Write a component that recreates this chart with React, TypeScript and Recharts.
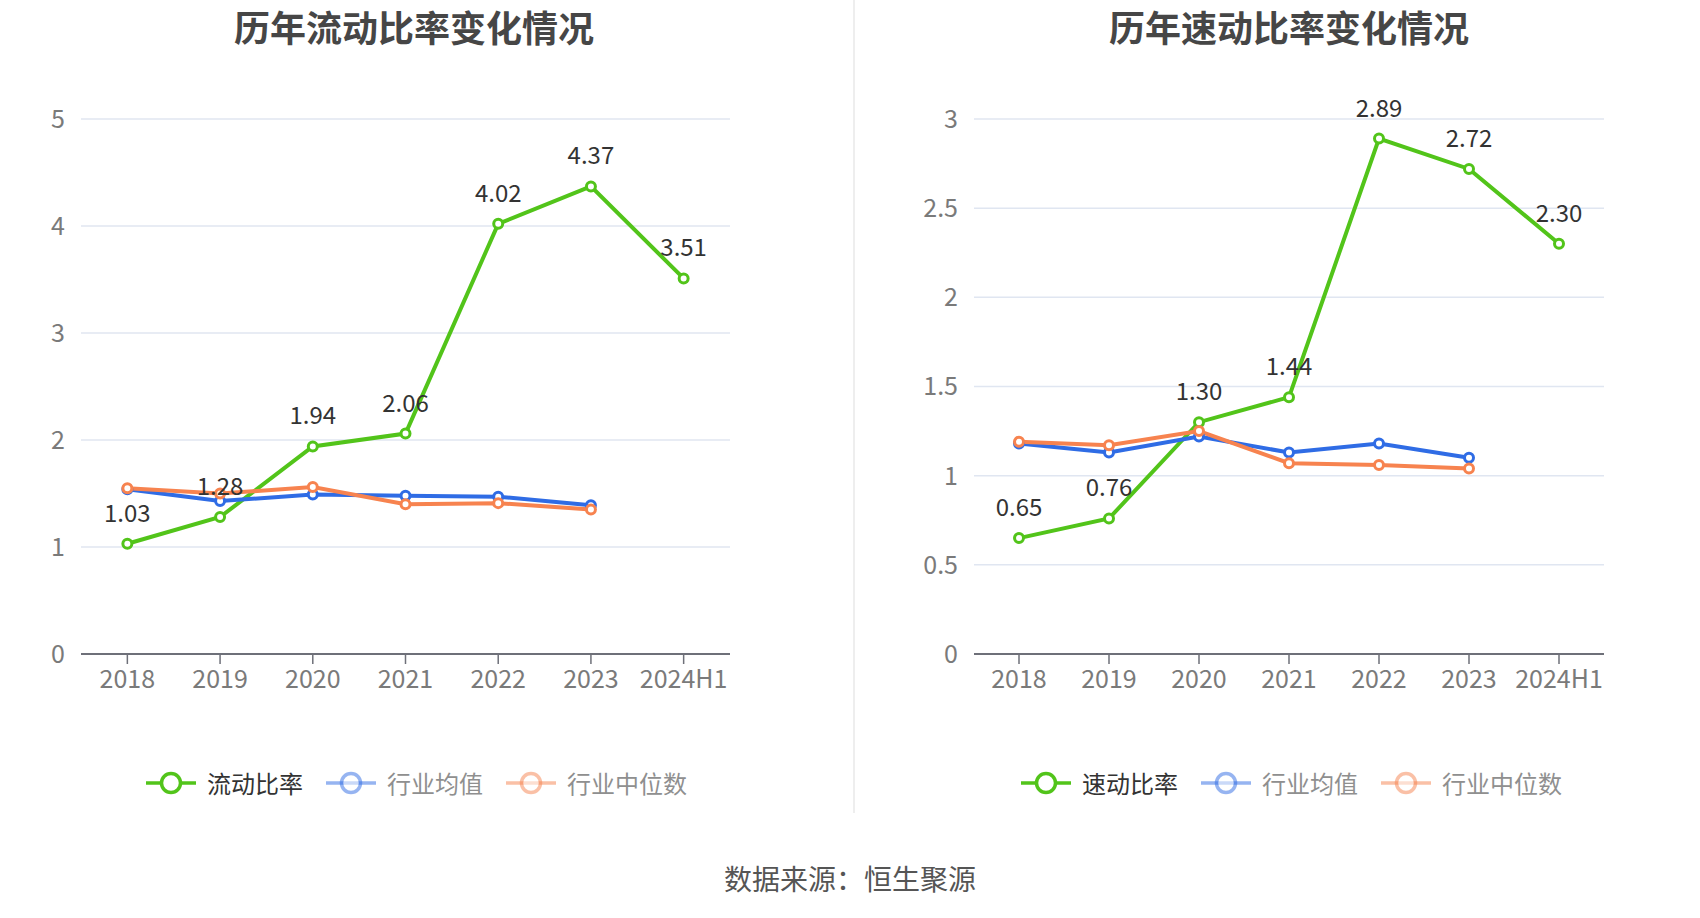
import React from 'react';
import { LineChart, Line, XAxis, YAxis, CartesianGrid, LabelList } from 'recharts';

const categories = ['2018', '2019', '2020', '2021', '2022', '2023', '2024H1'];

const currentRatio = [1.03, 1.28, 1.94, 2.06, 4.02, 4.37, 3.51];
const currentIndustryMean = [1.54, 1.43, 1.49, 1.48, 1.47, 1.39, null];
const currentIndustryMedian = [1.55, 1.5, 1.56, 1.4, 1.41, 1.35, null];

const quickRatio = [0.65, 0.76, 1.3, 1.44, 2.89, 2.72, 2.3];
const quickIndustryMean = [1.18, 1.13, 1.22, 1.13, 1.18, 1.1, null];
const quickIndustryMedian = [1.19, 1.17, 1.25, 1.07, 1.06, 1.04, null];

const leftTicks = [0, 1, 2, 3, 4, 5];
const rightTicks = [0, 0.5, 1, 1.5, 2, 2.5, 3];

const leftTitle = '历年流动比率变化情况';
const rightTitle = '历年速动比率变化情况';
const leftNames = ['流动比率', '行业均值', '行业中位数'];
const rightNames = ['速动比率', '行业均值', '行业中位数'];
const sourceText = '数据来源：恒生聚源';

const GREEN = '#52c41a';
const BLUE = '#2f6ce5';
const ORANGE = '#f7834f';
const FONT = '"Noto Sans CJK SC", "Noto Sans", sans-serif';

const buildRows = (main: number[], mean: (number | null)[], median: (number | null)[]) =>
  categories.map((c, i) => ({ name: c, main: main[i], mean: mean[i], median: median[i] }));

const leftRows = buildRows(currentRatio, currentIndustryMean, currentIndustryMedian);
const rightRows = buildRows(quickRatio, quickIndustryMean, quickIndustryMedian);

const renderLabel = (props: any) => {
  const { x, y, value } = props;
  if (value == null) return null;
  return (
    <text x={x} y={y - 22} textAnchor="middle" fontSize={24} fill="#333" fontFamily={FONT}>
      {Number(value).toFixed(2)}
    </text>
  );
};

type PanelProps = {
  rows: any[];
  ticks: number[];
  max: number;
  width: number;
  yWidth: number;
  rightMargin: number;
};

const Panel = ({ rows, ticks, max, width, yWidth, rightMargin }: PanelProps) => {
  const lineW = 4;
  const dot = (c: string) => ({ r: 4.5, strokeWidth: 3, fill: '#fff', stroke: c });
  return (
    <LineChart
      width={width}
      height={800}
      data={rows}
      margin={{ top: 119, right: rightMargin, bottom: 106, left: 0 }}
    >
      <CartesianGrid vertical={false} stroke="#E0E6F1" strokeWidth={1.5} />
      <XAxis
        dataKey="name"
        scale="band"
        height={40}
        axisLine={{ stroke: '#6E7079', strokeWidth: 2 }}
        tickLine={{ stroke: '#6E7079', strokeWidth: 1.5 }}
        tickSize={10}
        tickMargin={6}
        interval={0}
        tick={{ fill: '#7a7a7a', fontSize: 25, fontFamily: FONT }}
      />
      <YAxis
        width={yWidth}
        domain={[0, max]}
        ticks={ticks}
        interval={0}
        axisLine={false}
        tickLine={false}
        tickMargin={10}
        tick={{ fill: '#7a7a7a', fontSize: 25, fontFamily: FONT }}
        tickFormatter={(v: number) => String(v)}
      />
      <Line
        dataKey="main"
        stroke={GREEN}
        strokeWidth={lineW}
        dot={dot(GREEN)}
        activeDot={false}
        isAnimationActive={false}
      />
      <Line
        dataKey="mean"
        stroke={BLUE}
        strokeWidth={lineW}
        dot={dot(BLUE)}
        activeDot={false}
        isAnimationActive={false}
      />
      <Line
        dataKey="median"
        stroke={ORANGE}
        strokeWidth={lineW}
        dot={dot(ORANGE)}
        activeDot={false}
        isAnimationActive={false}
      />
      <Line
        dataKey="main"
        stroke="none"
        dot={false}
        activeDot={false}
        legendType="none"
        isAnimationActive={false}
      >
        <LabelList dataKey="main" content={renderLabel} />
      </Line>
    </LineChart>
  );
};

const LegendIcon = ({ color, faded }: { color: string; faded: boolean }) => {
  const op = faded ? 0.5 : 1;
  return (
    <svg width={50} height={26} style={{ display: 'block' }}>
      <line x1={0} y1={13} x2={50} y2={13} stroke={color} strokeWidth={3.5} opacity={op} />
      <circle cx={25} cy={13} r={9.5} fill="#fff" stroke={color} strokeWidth={3.5} opacity={op} />
    </svg>
  );
};

const LegendRow = ({ names, left }: { names: string[]; left: number }) => {
  const colors = [GREEN, BLUE, ORANGE];
  return (
    <div
      style={{
        position: 'absolute',
        left,
        top: 783 - 17,
        height: 34,
        display: 'flex',
        alignItems: 'center',
        fontFamily: FONT,
        fontSize: 24,
        whiteSpace: 'nowrap',
      }}
    >
      {names.map((n, i) => (
        <div
          key={n + i}
          style={{ display: 'flex', alignItems: 'center', marginRight: i < names.length - 1 ? 23 : 0 }}
        >
          <LegendIcon color={colors[i]} faded={i > 0} />
          <span style={{ marginLeft: 11, color: i === 0 ? '#333' : '#8f8f8f', lineHeight: '34px' }}>{n}</span>
        </div>
      ))}
    </div>
  );
};

const Title = ({ text, center }: { text: string; center: number }) => (
  <div
    style={{
      position: 'absolute',
      left: center - 250,
      width: 500,
      top: 0,
      height: 52,
      lineHeight: '52px',
      textAlign: 'center',
      fontFamily: FONT,
      fontWeight: 700,
      fontSize: 36,
      color: '#464646',
      whiteSpace: 'nowrap',
    }}
  >
    {text}
  </div>
);

export default function App() {
  return (
    <div
      style={{
        position: 'absolute',
        left: 0,
        top: 0,
        width: 1700,
        height: 918,
        background: '#fff',
        overflow: 'hidden',
      }}
    >
      <div style={{ position: 'absolute', left: 0, top: 0 }}>
        <Panel rows={leftRows} ticks={leftTicks} max={5} width={854} yWidth={81} rightMargin={124} />
      </div>
      <div style={{ position: 'absolute', left: 854, top: 0 }}>
        <Panel rows={rightRows} ticks={rightTicks} max={3} width={846} yWidth={120} rightMargin={96} />
      </div>
      <div style={{ position: 'absolute', left: 853, top: 0, width: 1.5, height: 813, background: '#eeeeee' }} />
      <Title text={leftTitle} center={414} />
      <Title text={rightTitle} center={1289} />
      <LegendRow names={leftNames} left={146} />
      <LegendRow names={rightNames} left={1021} />
      <div
        style={{
          position: 'absolute',
          left: 600,
          width: 500,
          top: 878 - 20,
          height: 40,
          lineHeight: '40px',
          textAlign: 'center',
          fontFamily: FONT,
          fontSize: 28,
          color: '#555',
        }}
      >
        {sourceText}
      </div>
    </div>
  );
}
